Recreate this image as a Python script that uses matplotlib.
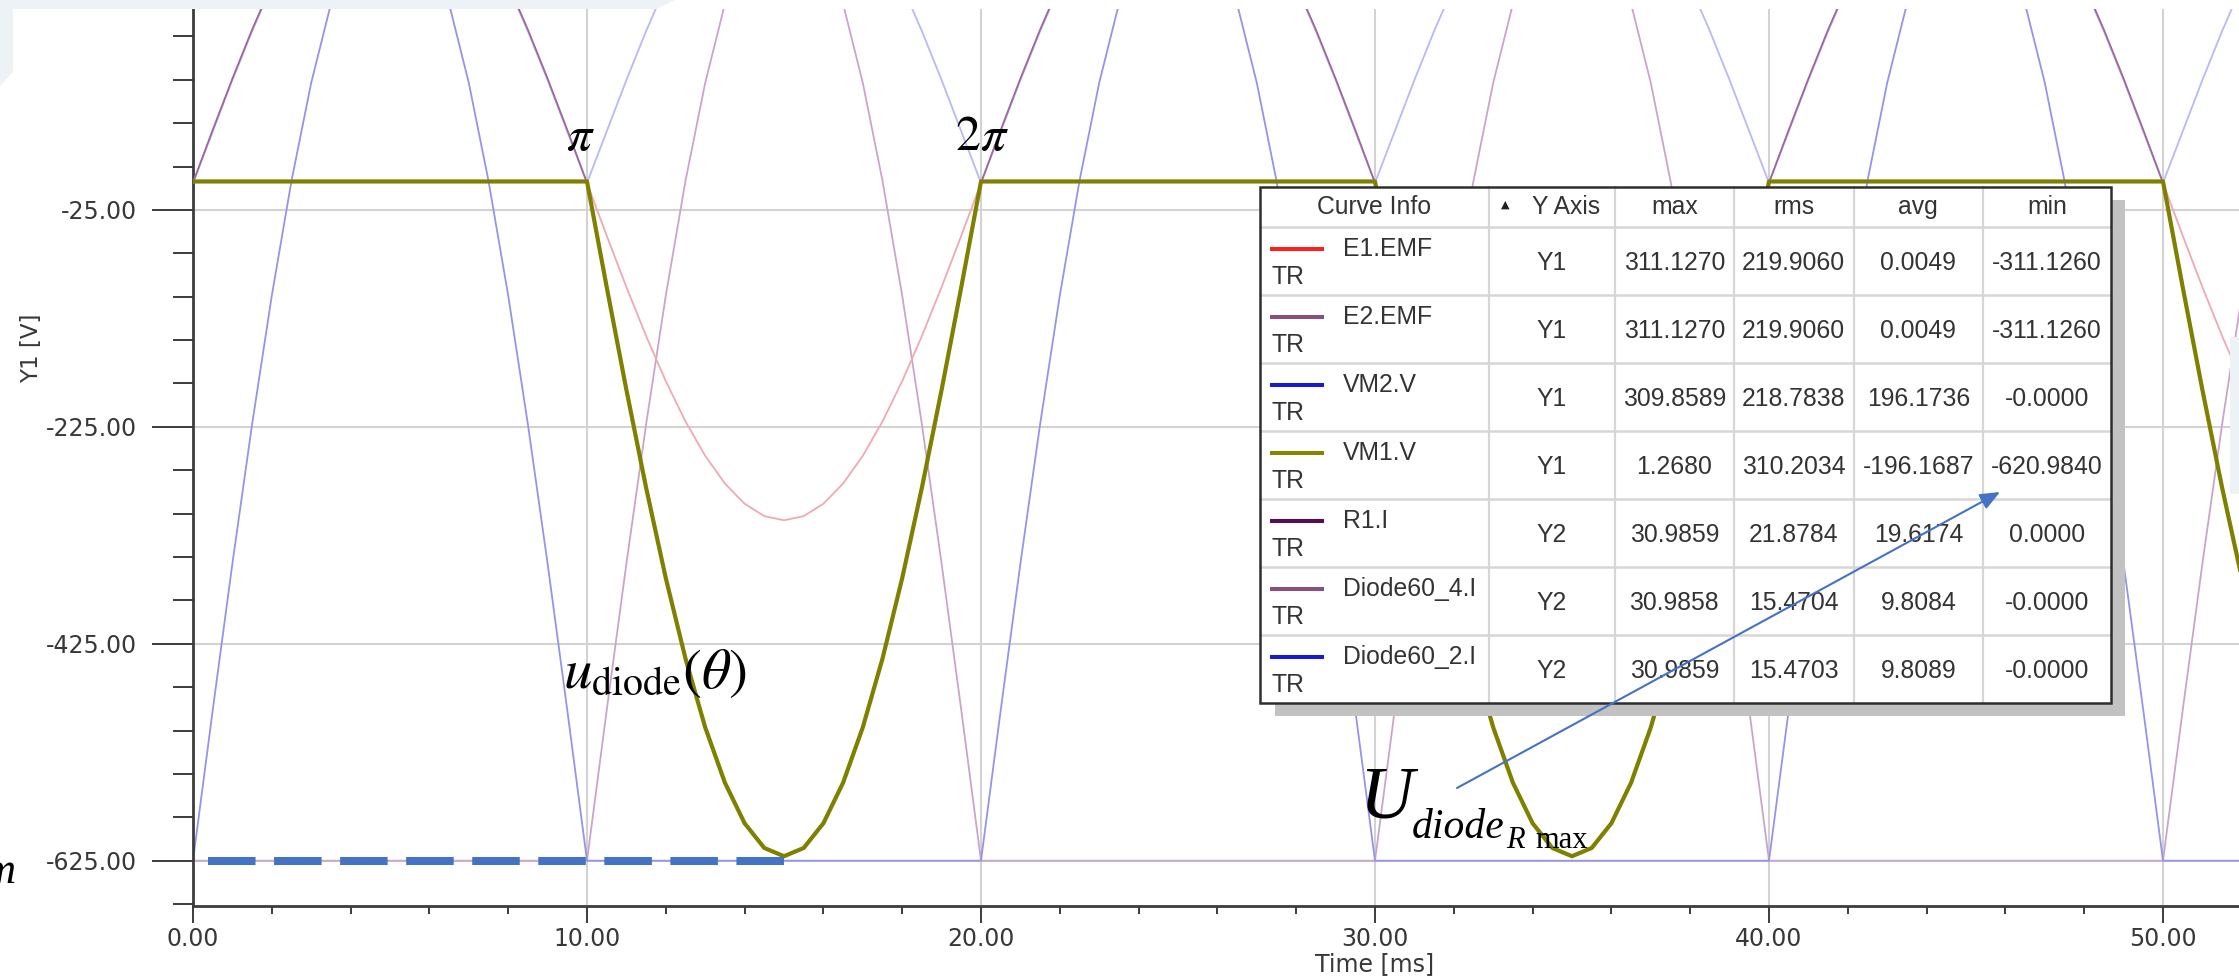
import numpy as np
import matplotlib
matplotlib.use('Agg')
import matplotlib.pyplot as plt
import matplotlib.transforms as mtransforms
from matplotlib.patches import Rectangle, Polygon, FancyArrowPatch
from matplotlib.lines import Line2D
from matplotlib.ticker import MultipleLocator, FormatStrFormatter

plt.rcParams['font.family'] = 'DejaVu Sans'
plt.rcParams['mathtext.fontset'] = 'stix'

W, H = 2239, 977

# 1) Traces (0.5 ms steps)
t_ms = [
    0.0, 0.5, 1.0, 1.5, 2.0, 2.5, 3.0, 3.5, 4.0, 4.5,
    5.0, 5.5, 6.0, 6.5, 7.0, 7.5, 8.0, 8.5, 9.0, 9.5,
    10.0, 10.5, 11.0, 11.5, 12.0, 12.5, 13.0, 13.5, 14.0, 14.5,
    15.0, 15.5, 16.0, 16.5, 17.0, 17.5, 18.0, 18.5, 19.0, 19.5,
    20.0, 20.5, 21.0, 21.5, 22.0, 22.5, 23.0, 23.5, 24.0, 24.5,
    25.0, 25.5, 26.0, 26.5, 27.0, 27.5, 28.0, 28.5, 29.0, 29.5,
    30.0, 30.5, 31.0, 31.5, 32.0, 32.5, 33.0, 33.5, 34.0, 34.5,
    35.0, 35.5, 36.0, 36.5, 37.0, 37.5, 38.0, 38.5, 39.0, 39.5,
    40.0, 40.5, 41.0, 41.5, 42.0, 42.5, 43.0, 43.5, 44.0, 44.5,
    45.0, 45.5, 46.0, 46.5, 47.0, 47.5, 48.0, 48.5, 49.0, 49.5,
    50.0, 50.5, 51.0, 51.5, 52.0]

# E1.EMF [V]
e1_emf = [
    0.0, 48.7, 96.1, 141.2, 182.9, 220.0, 251.7, 277.2, 295.9, 307.3,
    311.1, 307.3, 295.9, 277.2, 251.7, 220.0, 182.9, 141.2, 96.1, 48.7,
    0.0, -48.7, -96.1, -141.2, -182.9, -220.0, -251.7, -277.2, -295.9, -307.3,
    -311.1, -307.3, -295.9, -277.2, -251.7, -220.0, -182.9, -141.2, -96.1, -48.7,
    0.0, 48.7, 96.1, 141.2, 182.9, 220.0, 251.7, 277.2, 295.9, 307.3,
    311.1, 307.3, 295.9, 277.2, 251.7, 220.0, 182.9, 141.2, 96.1, 48.7,
    0.0, -48.7, -96.1, -141.2, -182.9, -220.0, -251.7, -277.2, -295.9, -307.3,
    -311.1, -307.3, -295.9, -277.2, -251.7, -220.0, -182.9, -141.2, -96.1, -48.7,
    0.0, 48.7, 96.1, 141.2, 182.9, 220.0, 251.7, 277.2, 295.9, 307.3,
    311.1, 307.3, 295.9, 277.2, 251.7, 220.0, 182.9, 141.2, 96.1, 48.7,
    0.0, -48.7, -96.1, -141.2, -182.9]

# VM2.V [V]
vm2_v = [
    0.0, 47.4, 94.8, 139.9, 181.6, 218.7, 250.4, 275.9, 294.6, 306.0,
    309.9, 306.0, 294.6, 275.9, 250.4, 218.7, 181.6, 139.9, 94.8, 47.4,
    0.0, 47.4, 94.8, 139.9, 181.6, 218.7, 250.4, 275.9, 294.6, 306.0,
    309.9, 306.0, 294.6, 275.9, 250.4, 218.7, 181.6, 139.9, 94.8, 47.4,
    0.0, 47.4, 94.8, 139.9, 181.6, 218.7, 250.4, 275.9, 294.6, 306.0,
    309.9, 306.0, 294.6, 275.9, 250.4, 218.7, 181.6, 139.9, 94.8, 47.4,
    0.0, 47.4, 94.8, 139.9, 181.6, 218.7, 250.4, 275.9, 294.6, 306.0,
    309.9, 306.0, 294.6, 275.9, 250.4, 218.7, 181.6, 139.9, 94.8, 47.4,
    0.0, 47.4, 94.8, 139.9, 181.6, 218.7, 250.4, 275.9, 294.6, 306.0,
    309.9, 306.0, 294.6, 275.9, 250.4, 218.7, 181.6, 139.9, 94.8, 47.4,
    0.0, 47.4, 94.8, 139.9, 181.6]

# VM1.V [V] (diode voltage)
vm1_v = [
    1.27, 1.27, 1.27, 1.27, 1.27, 1.27, 1.27, 1.27, 1.27, 1.27,
    1.27, 1.27, 1.27, 1.27, 1.27, 1.27, 1.27, 1.27, 1.27, 1.27,
    1.27, -96.1, -190.9, -281.1, -364.5, -438.7, -502.1, -553.1, -590.5, -613.3,
    -620.9, -613.3, -590.5, -553.1, -502.1, -438.7, -364.5, -281.1, -190.9, -96.1,
    1.27, 1.27, 1.27, 1.27, 1.27, 1.27, 1.27, 1.27, 1.27, 1.27,
    1.27, 1.27, 1.27, 1.27, 1.27, 1.27, 1.27, 1.27, 1.27, 1.27,
    1.27, -96.1, -190.9, -281.1, -364.5, -438.7, -502.1, -553.1, -590.5, -613.3,
    -620.9, -613.3, -590.5, -553.1, -502.1, -438.7, -364.5, -281.1, -190.9, -96.1,
    1.27, 1.27, 1.27, 1.27, 1.27, 1.27, 1.27, 1.27, 1.27, 1.27,
    1.27, 1.27, 1.27, 1.27, 1.27, 1.27, 1.27, 1.27, 1.27, 1.27,
    1.27, -96.1, -190.9, -281.1, -364.5]

# Diode60_2.I [A] (Y2)
diode60_2_i = [
    0.0, 4.85, 9.58, 14.07, 18.22, 21.92, 25.08, 27.62, 29.48, 30.62,
    30.99, 30.62, 29.48, 27.62, 25.08, 21.92, 18.22, 14.07, 9.58, 4.85,
    0.0, 0.0, 0.0, 0.0, 0.0, 0.0, 0.0, 0.0, 0.0, 0.0,
    0.0, 0.0, 0.0, 0.0, 0.0, 0.0, 0.0, 0.0, 0.0, 0.0,
    0.0, 4.85, 9.58, 14.07, 18.22, 21.92, 25.08, 27.62, 29.48, 30.62,
    30.99, 30.62, 29.48, 27.62, 25.08, 21.92, 18.22, 14.07, 9.58, 4.85,
    0.0, 0.0, 0.0, 0.0, 0.0, 0.0, 0.0, 0.0, 0.0, 0.0,
    0.0, 0.0, 0.0, 0.0, 0.0, 0.0, 0.0, 0.0, 0.0, 0.0,
    0.0, 4.85, 9.58, 14.07, 18.22, 21.92, 25.08, 27.62, 29.48, 30.62,
    30.99, 30.62, 29.48, 27.62, 25.08, 21.92, 18.22, 14.07, 9.58, 4.85,
    0.0, 0.0, 0.0, 0.0, 0.0]

# Diode60_4.I [A] (Y2)
diode60_4_i = [
    0.0, 0.0, 0.0, 0.0, 0.0, 0.0, 0.0, 0.0, 0.0, 0.0,
    0.0, 0.0, 0.0, 0.0, 0.0, 0.0, 0.0, 0.0, 0.0, 0.0,
    0.0, 4.85, 9.58, 14.07, 18.22, 21.92, 25.08, 27.62, 29.48, 30.62,
    30.99, 30.62, 29.48, 27.62, 25.08, 21.92, 18.22, 14.07, 9.58, 4.85,
    0.0, 0.0, 0.0, 0.0, 0.0, 0.0, 0.0, 0.0, 0.0, 0.0,
    0.0, 0.0, 0.0, 0.0, 0.0, 0.0, 0.0, 0.0, 0.0, 0.0,
    0.0, 4.85, 9.58, 14.07, 18.22, 21.92, 25.08, 27.62, 29.48, 30.62,
    30.99, 30.62, 29.48, 27.62, 25.08, 21.92, 18.22, 14.07, 9.58, 4.85,
    0.0, 0.0, 0.0, 0.0, 0.0, 0.0, 0.0, 0.0, 0.0, 0.0,
    0.0, 0.0, 0.0, 0.0, 0.0, 0.0, 0.0, 0.0, 0.0, 0.0,
    0.0, 4.85, 9.58, 14.07, 18.22]

# dashed marker of the peak reverse voltage
dash_t = [0.37, 15.1]
dash_v = [-625.0, -625.0]

# 2) Curve info table
curve_names = ['E1.EMF', 'E2.EMF', 'VM2.V', 'VM1.V', 'R1.I', 'Diode60_4.I', 'Diode60_2.I']
curve_axis = ['Y1', 'Y1', 'Y1', 'Y1', 'Y2', 'Y2', 'Y2']
max_vals = ['311.1270', '311.1270', '309.8589', '1.2680', '30.9859', '30.9858', '30.9859']
rms_vals = ['219.9060', '219.9060', '218.7838', '310.2034', '21.8784', '15.4704', '15.4703']
avg_vals = ['0.0049', '0.0049', '196.1736', '-196.1687', '19.6174', '9.8084', '9.8089']
min_vals = ['-311.1260', '-311.1260', '-0.0000', '-620.9840', '0.0000', '-0.0000', '-0.0000']
swatch_colors = ['#ff1f1f', '#8c4f7c', '#1a1ad6', '#858500', '#560d56', '#8c4f7c', '#1a1ad6']


def fx(x):
    return x / W


def fy(y):
    return 1 - y / H


def rect_px(x0, y0, x1, y1, **kw):
    return Rectangle((fx(x0), fy(y1)), (x1 - x0) / W, (y1 - y0) / H,
                     transform=fig.transFigure, **kw)


fig = plt.figure(figsize=(W / 100, H / 100), dpi=100)

# slide background peeking out at the edges
fig.add_artist(Polygon([(fx(0), fy(0)), (fx(675), fy(0)), (fx(656), fy(9)), (fx(13), fy(9)),
                        (fx(13), fy(72)), (fx(0), fy(86))], closed=True,
                       transform=fig.transFigure, facecolor='#edf2f7', edgecolor='none', zorder=1))
fig.add_artist(rect_px(2230, 337, 2239, 494, facecolor='#edf2f7', edgecolor='none', zorder=1))

ax = fig.add_axes([fx(193), fy(906), (W - 193) / W, (906 - 9) / H])
ax.set_xlim(0, (W - 193) / 39.4)
ax.set_ylim(-666.8, 160.3)
ax2 = ax.twinx()
ax2.set_ylim(-1.46, 27.46)
ax2.axis('off')

t = np.array(t_ms)
e1 = np.array(e1_emf)

# Y2 currents, drawn in ax with the Y2 scale
ax.plot(t, diode60_4_i, color='#c9a6c9', lw=1.3, transform=ax2.transData, zorder=2)
ax.plot(t, diode60_2_i, color='#9494ea', lw=1.3, transform=ax2.transData, zorder=2.1)

ax.plot(t, vm2_v, color='#b6baf6', lw=1.3, zorder=3)
ax.plot(t, np.where(e1 <= 0, e1, np.nan), color='#f0a9b3', lw=1.3, zorder=3.1)
ax.plot(t, np.where(e1 >= 0, e1, np.nan), color='#a0689a', lw=1.3, zorder=3.2)
ax.plot(t, vm1_v, color='#808000', lw=3.0, zorder=4)

ax.plot(dash_t, dash_v, color='#4472c4', lw=5.8, dashes=(5.9, 2.3),
        dash_capstyle='butt', zorder=5)

ax.grid(True, which='major', color='#d2d2d2', lw=1.5)
ax.set_axisbelow(True)
for s in ['top', 'right']:
    ax.spines[s].set_visible(False)
for s in ['left', 'bottom']:
    ax.spines[s].set_color('#3c3c3c')
    ax.spines[s].set_linewidth(2)

ax.xaxis.set_major_locator(MultipleLocator(10))
ax.xaxis.set_minor_locator(MultipleLocator(2))
ax.yaxis.set_major_locator(MultipleLocator(200, offset=175))
ax.yaxis.set_minor_locator(MultipleLocator(40, offset=15))
ax.xaxis.set_major_formatter(FormatStrFormatter('%.2f'))
ax.yaxis.set_major_formatter(FormatStrFormatter('%.2f'))
ax.tick_params(axis='y', which='major', length=29.5, width=1.4, color='#3c3c3c',
               pad=10.5, labelsize=17, labelcolor='#383838')
ax.tick_params(axis='y', which='minor', length=14.4, width=1.4, color='#3c3c3c')
ax.tick_params(axis='x', which='major', length=12, width=1.4, color='#3c3c3c',
               pad=3, labelsize=17, labelcolor='#383838')
ax.tick_params(axis='x', which='minor', length=5.5, width=1.4, color='#3c3c3c')

fig.text(fx(32), fy(348), 'Y1 [V]', rotation=90, ha='center', va='center',
         fontsize=16.5, color='#383838')
xlab_tr = mtransforms.blended_transform_factory(ax.transData, fig.transFigure)
fig.text(30, fy(952), 'Time [ms]', transform=xlab_tr, ha='center', va='top',
         fontsize=17, color='#383838')

# 3) Table with shadow
col_x = [1260, 1488.5, 1614.8, 1733.7, 1853.8, 1982.9, 2111.4]
row_y = [186.5, 226.8] + [226.8 + 68 * (i + 1) for i in range(7)]
fig.add_artist(rect_px(1275, 200, 2125, 716, facecolor='#c2c2c2', edgecolor='none', zorder=5))
fig.add_artist(rect_px(col_x[0], row_y[0], col_x[-1], row_y[-1], facecolor='white',
                       edgecolor='none', zorder=6))
for y in row_y[1:-1]:
    fig.add_artist(Line2D([fx(col_x[0]), fx(col_x[-1])], [fy(y), fy(y)],
                          transform=fig.transFigure, color='#d6d6d6', lw=1.8, zorder=6.5))
for x in col_x[1:-1]:
    fig.add_artist(Line2D([fx(x), fx(x)], [fy(row_y[0]), fy(row_y[-1])],
                          transform=fig.transFigure, color='#d6d6d6', lw=1.6, zorder=6.5))
fig.add_artist(rect_px(col_x[0], row_y[0], col_x[-1], row_y[-1], facecolor='none',
                       edgecolor='#2e2e2e', lw=1.8, zorder=7))

tkw = dict(family='Liberation Sans', fontsize=17.8, color='#333333', zorder=8)
hy = (row_y[0] + row_y[1]) / 2
fig.text(fx((col_x[0] + col_x[1]) / 2), fy(hy), 'Curve Info', ha='center', va='center', **tkw)
fig.text(fx(1505), fy(hy - 2), '\u25b2', ha='center', va='center', fontsize=8,
         color='#202020', zorder=8)
fig.text(fx(1566), fy(hy), 'Y Axis', ha='center', va='center', **tkw)
for i, name in enumerate(['max', 'rms', 'avg', 'min']):
    fig.text(fx((col_x[i + 2] + col_x[i + 3]) / 2), fy(hy), name, ha='center', va='center', **tkw)

cols = [curve_axis, max_vals, rms_vals, avg_vals, min_vals]
for r, name in enumerate(curve_names):
    top = row_y[r + 1]
    fig.add_artist(Line2D([fx(1270), fx(1324)], [fy(top + 22), fy(top + 22)],
                          transform=fig.transFigure, color=swatch_colors[r], lw=2.9,
                          solid_capstyle='butt', zorder=8))
    fig.text(fx(1343), fy(top + 22), name, ha='left', va='center', **tkw)
    fig.text(fx(1271), fy(top + 50), 'TR', ha='left', va='center', **tkw)
    for c, vals in enumerate(cols):
        fig.text(fx((col_x[c + 1] + col_x[c + 2]) / 2), fy(top + 36), vals[r],
                 ha='center', va='center', **tkw)

# 4) Annotations
fig.add_artist(FancyArrowPatch((fx(1457), fy(788)), (fx(2000), fy(492)),
                               transform=fig.transFigure,
                               arrowstyle='-|>,head_length=0.6,head_width=0.25',
                               mutation_scale=20, color='#4472c4', lw=1.5,
                               shrinkA=0, shrinkB=0, zorder=9))

fig.text(fx(580), fy(150), r'$\pi$', fontsize=36, ha='center', va='baseline', zorder=9)
fig.text(fx(982), fy(150), r'$2\pi$', fontsize=36, ha='center', va='baseline', zorder=9)
fig.text(fx(563), fy(688), r'$u_{\mathrm{diode}}(\theta)$', fontsize=41, ha='left',
         va='baseline', zorder=9)

serif = dict(family='Liberation Serif', color='black', va='baseline', zorder=9)
fig.text(fx(1359), fy(818), 'U', style='italic', fontsize=54, **serif)
fig.text(fx(1412), fy(838), 'diode', style='italic', fontsize=30, **serif)
fig.text(fx(1506), fy(848), 'R', style='italic', fontsize=22, **serif)
fig.text(fx(1535), fy(848), 'max', fontsize=22, **serif)
fig.text(fx(16), fy(883), 'm', style='italic', fontsize=32, ha='right', **serif)

fig.savefig('out.png', dpi=100)
plt.close(fig)
